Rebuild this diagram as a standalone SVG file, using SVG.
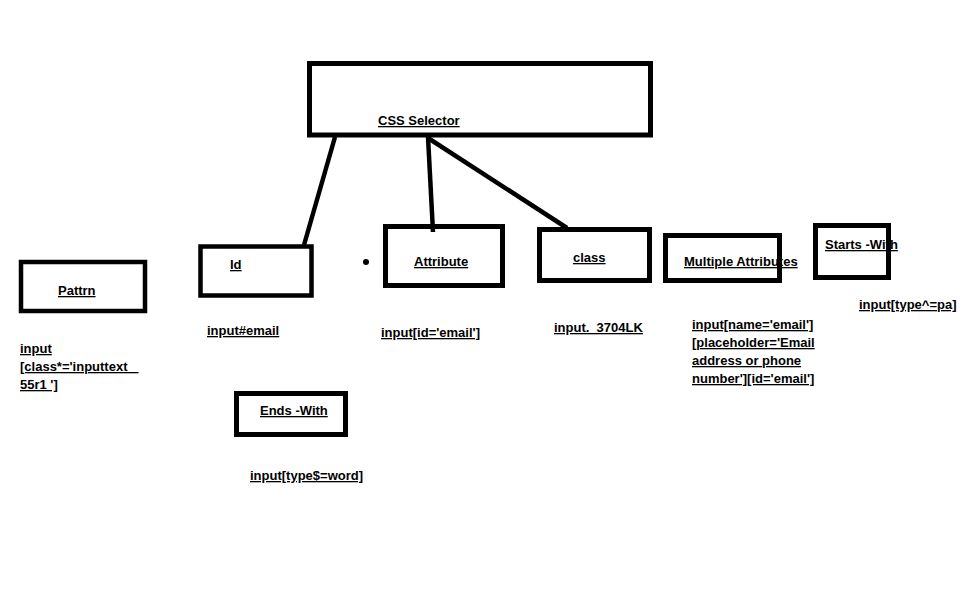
<svg xmlns="http://www.w3.org/2000/svg" width="978" height="603" viewBox="0 0 978 603">
  <style>
    .box { fill: none; stroke: #000; stroke-width: 5; }
    .conn { stroke: #000; stroke-width: 4.5; stroke-linecap: butt; fill: none; }
    text { font-family: "Liberation Sans", Arial, sans-serif; font-weight: bold; font-size: 13px; fill: #000; text-decoration: underline; }
  </style>
  <rect width="978" height="603" fill="#fff"/>

  <g id="connectors">
    <line class="conn" x1="335" y1="137" x2="304" y2="245"/>
    <line class="conn" x1="428" y1="137" x2="433" y2="232"/>
    <line class="conn" x1="428" y1="138" x2="567" y2="228"/>
    <circle cx="366" cy="262" r="3" fill="#000"/>
  </g>

  <g id="css-selector">
    <rect class="box" x="309.5" y="63.5" width="341" height="71.5"/>
    <text x="378" y="125">CSS Selector</text>
  </g>

  <g id="pattrn">
    <rect class="box" x="21" y="262" width="124" height="49" style="stroke-width:4.5"/>
    <text x="58" y="295">Pattrn</text>
    <text x="20" y="353">input</text>
    <text x="20" y="371">[class*='inputtext _</text>
    <text x="20" y="389">55r1 ']</text>
  </g>

  <g id="id">
    <rect class="box" x="200.5" y="246.5" width="111" height="49" style="stroke-width:4.5"/>
    <text x="230" y="269">Id</text>
    <text x="207" y="335">input#email</text>
  </g>

  <g id="attribute">
    <rect class="box" x="385.5" y="226.5" width="117" height="59"/>
    <text x="414" y="266">Attribute</text>
    <text x="381" y="337">input[id='email']</text>
  </g>

  <g id="class">
    <rect class="box" x="539.5" y="229.5" width="110" height="51"/>
    <text x="573" y="262">class</text>
    <text x="554" y="332">input._3704LK</text>
  </g>

  <g id="multiple-attributes">
    <rect class="box" x="665.5" y="235.5" width="114" height="45"/>
    <text x="684" y="266">Multiple Attributes</text>
    <text x="692" y="329">input[name='email']</text>
    <text x="692" y="347">[placeholder='Email </text>
    <text x="692" y="365">address or phone </text>
    <text x="692" y="383">number'][id='email']</text>
  </g>

  <g id="starts-with">
    <rect class="box" x="815.5" y="225.5" width="73" height="52"/>
    <text x="825" y="249">Starts -With</text>
    <text x="859" y="309">input[type^=pa]</text>
  </g>

  <g id="ends-with">
    <rect class="box" x="236.5" y="393.5" width="109" height="41"/>
    <text x="260" y="415">Ends -With</text>
    <text x="250" y="480">input[type$=word]</text>
  </g>
</svg>
